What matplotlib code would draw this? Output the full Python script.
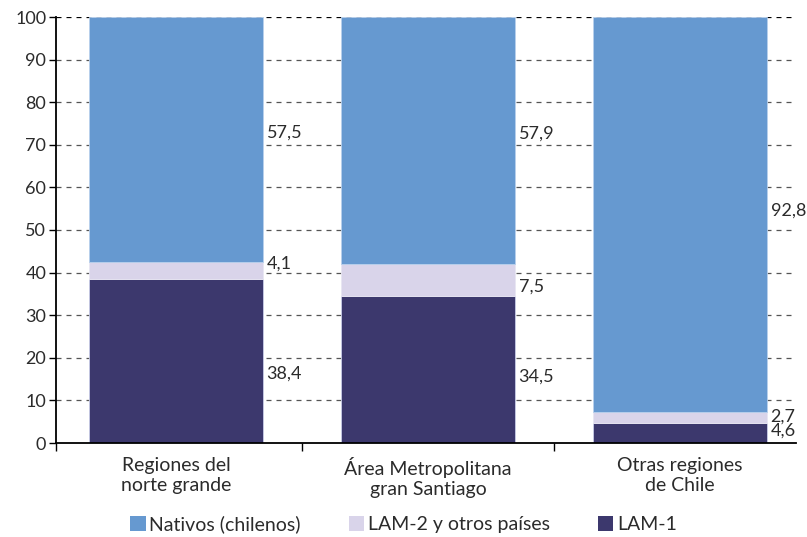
import matplotlib
matplotlib.use("Agg")
import matplotlib.pyplot as plt
from matplotlib.patches import Patch

categories = ["Regiones del\nnorte grande", "Área Metropolitana\ngran Santiago", "Otras regiones\nde Chile"]
series_names = ["Nativos (chilenos)", "LAM-2 y otros países", "LAM-1"]
lam1 = [38.4, 34.5, 4.6]
lam2 = [4.1, 7.5, 2.7]
nativos = [57.5, 57.9, 92.8]
yticks = list(range(0, 101, 10))

# small vertical nudges of the value labels (data units), per bar: (lam1, lam2, nativos)
label_nudge = [(-2.8, 1.6, 1.5), (-1.7, -1.6, 1.7), (0.5, 0.3, 0.9)]

c_nat = "#6699D0"
c_lam2 = "#D9D4EA"
c_lam1 = "#3C386D"
txt = "#2b2b2b"

plt.rcParams['font.family'] = ['Lato', 'DejaVu Sans']

fig = plt.figure(figsize=(8.07, 5.37), dpi=100)
ax = fig.add_axes([56/807, 1-443/537, (796-56)/807, (443-17)/537])

x = list(range(len(categories)))
w = 0.687
ax.bar(x, lam1, width=w, color=c_lam1, edgecolor="#c9cde8", linewidth=0.6, zorder=3)
b2 = [a for a in lam1]
ax.bar(x, lam2, width=w, bottom=b2, color=c_lam2, edgecolor="#e8e6f2", linewidth=0.6, zorder=3)
b3 = [a + b for a, b in zip(lam1, lam2)]
ax.bar(x, nativos, width=w, bottom=b3, color=c_nat, edgecolor="#b8d0ec", linewidth=0.6, zorder=3)

ax.set_xlim(-0.476, 2.46)
ax.set_ylim(0, 100)

# gridlines
for t in yticks[1:]:
    col = "#000000" if t == 100 else "#555555"
    ax.axhline(t, color=col, linestyle=(0, (4, 4)), linewidth=0.9, zorder=1)

def fmt(v):
    return f"{v:.1f}".replace(".", ",")

for i in x:
    segs = [(0, lam1[i]), (lam1[i], lam2[i]), (lam1[i] + lam2[i], nativos[i])]
    for k, (bot, val) in enumerate(segs):
        ymid = bot + val / 2 + label_nudge[i][k]
        ax.text(i + w / 2 + 0.016, ymid, fmt(val), va="center", ha="left",
                fontsize=13, color=txt, zorder=4)

ax.set_yticks(yticks)
ax.set_yticklabels([str(t) for t in yticks], fontsize=13, color=txt)
ax.tick_params(axis="y", direction="out", length=5, width=1, color="black", pad=2)

ax.set_xticks(x)
ax.set_xticklabels(categories, fontsize=14, color=txt, linespacing=1.2)
ax.tick_params(axis="x", which="major", length=0, pad=10)
ax.set_xticks([-0.476, 0.5, 1.5], minor=True)
ax.tick_params(axis="x", which="minor", direction="out", length=6, width=1, color="black")

for s in ["top", "right"]:
    ax.spines[s].set_visible(False)
ax.spines["left"].set_linewidth(1.3)
ax.spines["bottom"].set_linewidth(1.3)
ax.spines["left"].set_zorder(5)
ax.spines["bottom"].set_zorder(5)

handles = [Patch(facecolor=c_nat), Patch(facecolor=c_lam2), Patch(facecolor=c_lam1)]
fig.legend(handles, series_names, loc="center", bbox_to_anchor=(0.5, 1 - 524/537),
           ncol=3, frameon=False, fontsize=14, handlelength=0.8, handleheight=0.8,
           handletextpad=0.2, columnspacing=2.45, labelcolor=txt)

fig.savefig("out.png", dpi=100)
